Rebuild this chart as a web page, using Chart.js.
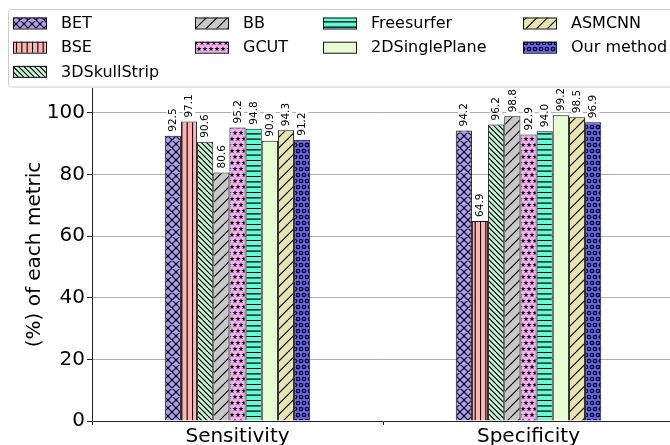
<!DOCTYPE html>
<html>
<head>
<meta charset="utf-8">
<script src="https://cdn.jsdelivr.net/npm/chart.js@4"></script>
<style>
  html, body { margin: 0; padding: 0; background: #fff; overflow: hidden; }
  canvas { display: block; }
</style>
</head>
<body>
<canvas id="chart" width="674" height="445"></canvas>
<script>
const categories = ["Sensitivity", "Specificity"];
const methods = ["BET", "BSE", "3DSkullStrip", "BB", "GCUT", "Freesurfer", "2DSinglePlane", "ASMCNN", "Our method"];
const sensitivity = [92.5, 97.1, 90.6, 80.6, 95.2, 94.8, 90.9, 94.3, 91.2];
const specificity = [94.2, 64.9, 96.2, 98.8, 92.9, 94.0, 99.2, 98.5, 96.9];
const yTicks = [0, 20, 40, 60, 80, 100];

const colors = ["#b19cf6", "#ffb3b0", "#c6f3d6", "#c8c8c8", "#f6b0f2", "#62fbd6", "#e6fdd3", "#e8e4b2", "#6666f6"];
const hatches = ["cross", "vert", "back", "fwd", "star", "horiz", "none", "fwd", "ring"];

Chart.defaults.font.family = "'DejaVu Sans', sans-serif";
Chart.defaults.color = "#000";

// hatch tiles, roughly like matplotlib hatching
function makePattern(color, hatch) {
  const s = (hatch === "star" || hatch === "ring") ? 36 : 32;
  const c = document.createElement("canvas");
  c.width = c.height = s;
  const g = c.getContext("2d");
  g.fillStyle = color;
  g.fillRect(0, 0, s, s);
  g.strokeStyle = "#000";
  g.fillStyle = "#000";
  g.lineWidth = 1.1;
  const p = s / 6;
  g.beginPath();
  if (hatch === "fwd" || hatch === "cross") {
    const q = hatch === "fwd" ? s / 3 : s / 4;
    for (let k = 0; k * q <= 2 * s + 0.1; k++) {
      g.moveTo(k * q, 0);
      g.lineTo(k * q - s, s);
    }
  }
  if (hatch === "back" || hatch === "cross") {
    const q = hatch === "back" ? p : s / 4;
    for (let k = -8; k * q <= s + 0.1; k++) {
      g.moveTo(k * q, 0);
      g.lineTo(k * q + s, s);
    }
  }
  if (hatch === "vert") {
    for (let k = 0; k < 6; k++) {
      g.moveTo(k * p + 0.5, 0);
      g.lineTo(k * p + 0.5, s);
    }
  }
  if (hatch === "horiz") {
    for (let k = 0; k < 6; k++) {
      g.moveTo(0, k * p + 0.5);
      g.lineTo(s, k * p + 0.5);
    }
  }
  g.stroke();
  if (hatch === "star" || hatch === "ring") {
    for (let i = -1; i <= 6; i++) {
      for (let j = -1; j <= 6; j++) {
        const cx = (j + (i % 2 ? 0.5 : 0)) * p + 1;
        const cy = i * p + 1;
        g.beginPath();
        if (hatch === "star") {
          for (let v = 0; v < 10; v++) {
            const r = v % 2 ? 1.1 : 2.7;
            const a = -Math.PI / 2 + v * Math.PI / 5;
            g.lineTo(cx + r * Math.cos(a), cy + r * Math.sin(a));
          }
          g.closePath();
          g.fill();
        } else {
          g.lineWidth = 1.3;
          g.arc(cx, cy, 1.7, 0, Math.PI * 2);
          g.stroke();
        }
      }
    }
  }
  return g.createPattern(c, "repeat");
}

const patterns = colors.map((c, i) => makePattern(c, hatches[i]));

const datasets = methods.map((m, i) => ({
  label: m,
  data: [sensitivity[i], specificity[i]],
  backgroundColor: patterns[i],
  borderColor: "#111",
  borderWidth: 1,
  borderSkipped: "bottom",
  categoryPercentage: 0.5,
  barPercentage: 1.0
}));

const barLabels = {
  id: "barLabels",
  afterDatasetsDraw(chart) {
    const ctx = chart.ctx;
    ctx.save();
    ctx.font = "10.5px 'DejaVu Sans'";
    chart.data.datasets.forEach((ds, i) => {
      chart.getDatasetMeta(i).data.forEach((bar, j) => {
        const txt = ds.data[j].toFixed(1);
        const w = ctx.measureText(txt).width;
        ctx.save();
        ctx.translate(bar.x, bar.y - 4);
        ctx.rotate(-Math.PI / 2);
        ctx.fillStyle = "#fff";
        ctx.fillRect(-1, -6, w + 2, 12);
        ctx.fillStyle = "#000";
        ctx.textBaseline = "middle";
        ctx.fillText(txt, 0, 0.5);
        ctx.restore();
      });
    });
    ctx.restore();
  }
};

// matplotlib style legend, filled column by column
const boxLegend = {
  id: "boxLegend",
  afterDraw(chart) {
    const ctx = chart.ctx;
    ctx.save();
    ctx.beginPath();
    ctx.roundRect(8.5, 9.5, 700, 77.5, 3);
    ctx.fillStyle = "rgba(255,255,255,0.85)";
    ctx.fill();
    ctx.strokeStyle = "#cccccc";
    ctx.lineWidth = 1;
    ctx.stroke();
    const colX = [13, 195, 323, 523];
    const rowY = [23, 47.2, 71.4];
    const perCol = [3, 2, 2, 2];
    let k = 0;
    ctx.font = "16px 'DejaVu Sans'";
    ctx.textBaseline = "middle";
    perCol.forEach((n, c) => {
      for (let r = 0; r < n; r++, k++) {
        const ds = chart.data.datasets[k];
        const x = colX[c], y = rowY[r];
        ctx.fillStyle = ds.backgroundColor;
        ctx.fillRect(x, y - 5.5, 34, 11);
        ctx.strokeStyle = "#111";
        ctx.strokeRect(x + 0.5, y - 5, 33, 11);
        ctx.fillStyle = "#000";
        ctx.fillText(ds.label, x + 48, y + 1);
      }
    });
    ctx.restore();
  }
};

new Chart(document.getElementById("chart"), {
  type: "bar",
  data: { labels: categories, datasets: datasets },
  options: {
    responsive: false,
    animation: false,
    layout: { padding: { top: 88, right: 0, bottom: 0, left: 0 } },
    plugins: { legend: { display: false }, tooltip: { enabled: false } },
    scales: {
      x: {
        grid: { drawOnChartArea: false, tickLength: 4, tickColor: "#222" },
        border: { color: "#222", width: 1 },
        ticks: { font: { size: 20 }, padding: 0, color: "#000" },
        afterFit(scale) { scale.height = 24; }
      },
      y: {
        min: 0,
        max: 108,
        grid: { color: "#b0b0b0", lineWidth: 1, tickLength: 5, tickColor: "#222" },
        border: { color: "#222", width: 1 },
        ticks: { font: { size: 20 }, padding: 2, color: "#000" },
        title: { display: true, text: "(%) of each metric", font: { size: 20 }, padding: { top: 23, bottom: 0 } },
        afterBuildTicks(scale) { scale.ticks = yTicks.map(v => ({ value: v })); },
        afterFit(scale) { scale.width = 92; }
      }
    }
  },
  plugins: [barLabels, boxLegend]
});
</script>
</body>
</html>
